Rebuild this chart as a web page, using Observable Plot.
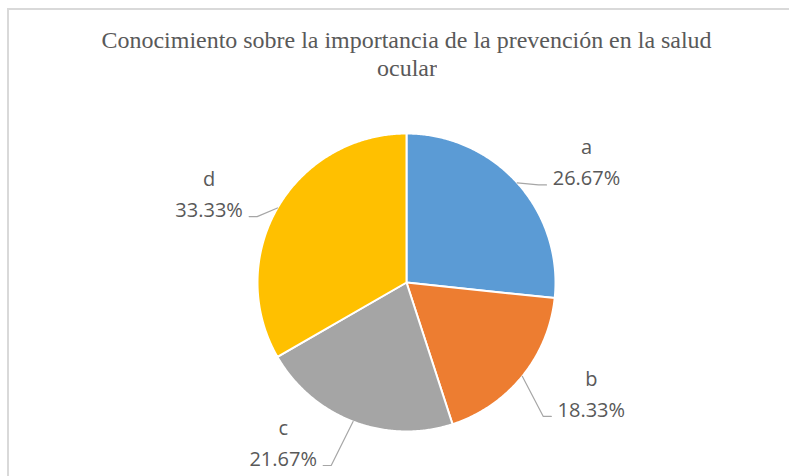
<!DOCTYPE html>
<html>
<head>
<meta charset="utf-8">
<script src="https://cdn.jsdelivr.net/npm/d3@7"></script>
<script src="https://cdn.jsdelivr.net/npm/@observablehq/plot@0.6"></script>
<style>
  html, body { margin: 0; padding: 0; background: #fff; }
  body { width: 789px; height: 476px; overflow: hidden; position: relative; }
  #frame { position: absolute; left: 7px; top: 8px; width: 800px; height: 520px; border: 2px solid #d9d9d9; box-sizing: border-box; }
  #title { position: absolute; left: 0; top: 26px; width: 814px; text-align: center;
           font-family: "Liberation Serif", "Tinos", "DejaVu Serif", "Times New Roman", serif; font-size: 24px; line-height: 28px; color: #595959; }
  #title span { display: inline-block; transform-origin: center; white-space: nowrap; }
  #chart { position: absolute; left: 0; top: 100px; }
</style>
</head>
<body>
<div id="frame"></div>
<div id="title"><span id="t1">Conocimiento sobre la importancia de la prevención en la salud</span><br><span id="t2">ocular</span></div>
<div id="chart"></div>
<script>
// ---- data ----
const categories = ["a", "b", "c", "d"];
const values = [26.67, 18.33, 21.67, 33.33];
const colors = ["#5B9BD5", "#ED7D31", "#A5A5A5", "#FFC000"];

// ---- layout ----
const R = 149;
const arcs = d3.pie().sort(null).value(d => d)(values);

const slicePts = [];
const leaderPts = [];
const labelRows = [];
const minLabelY = -161; // keep label block inside the chart area
arcs.forEach((a, i) => {
  const cat = categories[i];
  const a0 = a.startAngle, a1 = a.endAngle;
  const n = Math.max(2, Math.ceil((a1 - a0) / (Math.PI / 360)));
  slicePts.push({cat, x: 0, y: 0});
  for (let j = 0; j <= n; j++) {
    const t = a0 + (a1 - a0) * j / n;
    slicePts.push({cat, x: R * Math.sin(t), y: R * Math.cos(t)});
  }
  slicePts.push({cat, x: 0, y: 0});

  // label placement: outside end, pulled toward horizontal
  const mid = (a0 + a1) / 2;
  const target = mid < Math.PI ? Math.PI / 2 : 3 * Math.PI / 2;
  const la = mid + 0.2 * (target - mid);
  const lr = R * 1.45;
  const cx = lr * Math.sin(la);
  const cy = Math.max(minLabelY, lr * Math.cos(la));
  const side = Math.sin(la) > 0 ? 1 : -1;
  labelRows.push({cat, pct: values[i].toFixed(2) + "%", x: cx, y: cy});

  const endX = cx - side * 40, endY = cy - 22;
  leaderPts.push({cat, x: R * Math.sin(mid), y: R * Math.cos(mid)});
  leaderPts.push({cat, x: endX - side * 8, y: endY});
  leaderPts.push({cat, x: endX, y: endY});
});

const labelFont = "'Open Sans', 'Noto Sans', sans-serif";
const chart = Plot.plot({
  width: 789,
  height: 376,
  margin: 0,
  x: {domain: [-406, 383], axis: null},
  y: {domain: [-194, 182], axis: null},
  color: {domain: categories, range: colors},
  marks: [
    Plot.line(slicePts, {x: "x", y: "y", z: "cat", fill: "cat", stroke: "white", strokeWidth: 2, strokeLinejoin: "round", curve: "linear"}),
    Plot.line(leaderPts, {x: "x", y: "y", z: "cat", stroke: "#a6a6a6", strokeWidth: 1.2, curve: "linear"}),
    Plot.text(labelRows, {x: "x", y: "y", text: "cat", dy: -15, fontSize: 20, fill: "#595959", fontFamily: labelFont, textAnchor: "middle"}),
    Plot.text(labelRows, {x: "x", y: "y", text: "pct", dy: 16, fontSize: 20, fill: "#595959", fontFamily: labelFont, textAnchor: "middle"})
  ]
});
chart.style.fontFamily = labelFont;
document.getElementById("chart").appendChild(chart);

// fit title width to the reference's condensed serif
const t1 = document.getElementById("t1"), t2 = document.getElementById("t2");
const w = t1.getBoundingClientRect().width;
const s = 610 / w;
t1.style.transform = `scaleX(${s})`;
t2.style.transform = `scaleX(${s})`;
</script>
</body>
</html>
